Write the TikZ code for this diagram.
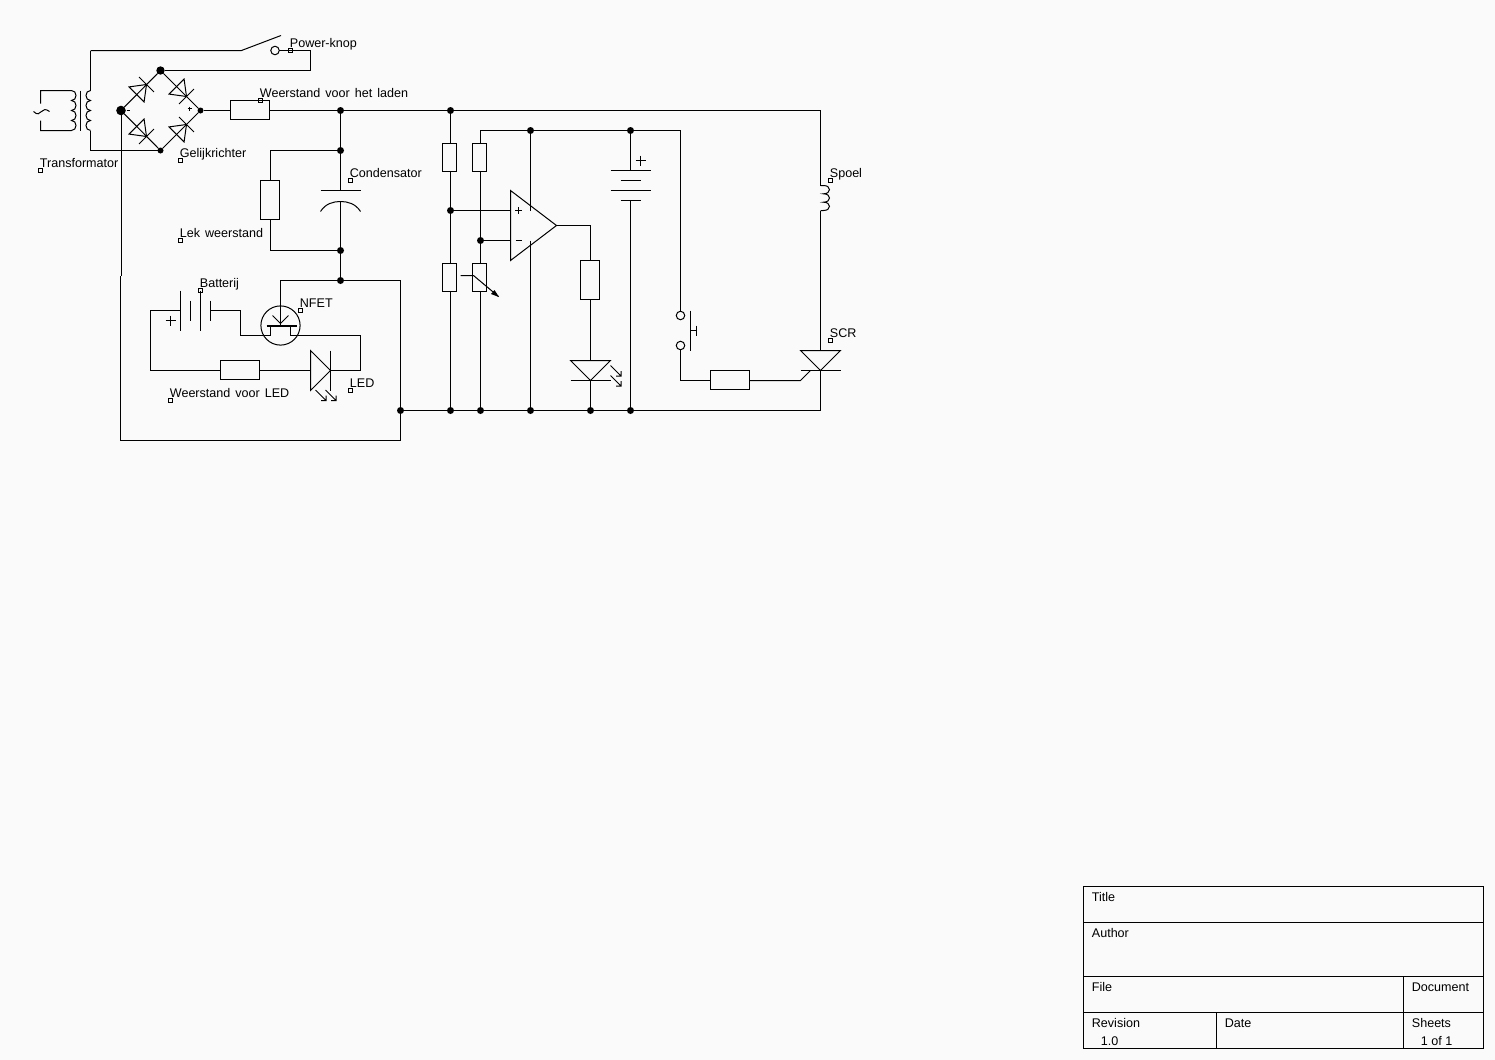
\documentclass[tikz,border=0pt]{standalone}
\usepackage{fontspec}
\setmainfont{Liberation Sans}
\definecolor{sheet}{HTML}{FAFAFA}
\newcommand{\lblfont}{\fontsize{6.28}{7.5}\selectfont\spaceskip=2.5pt\relax}
\newcommand{\marklabel}[4]{% name, x, y, text
  \node[mk] (m#1) at (#2,#3) {};
  \node[lab] (t#1) at (#2,#3-3) {#4};}
\tikzset{
  jn/.style={circle,fill=black,inner sep=0,outer sep=0,minimum size=3.5pt},
  rh/.style={draw,inner sep=0,outer sep=0,minimum width=19.5pt,minimum height=9.5pt},
  rv/.style={draw,inner sep=0,outer sep=0,minimum width=9.5pt,minimum height=19.5pt},
  rs/.style={draw,inner sep=0,outer sep=0,minimum width=7pt,minimum height=14pt},
  ring/.style={draw,circle,inner sep=0,outer sep=0,minimum size=4.25pt},
  mk/.style={draw,line width=.4pt,inner sep=0,outer sep=0,minimum size=1.9pt},
  lab/.style={anchor=base west,inner sep=0,outer sep=0,xshift=-0.3pt,font=\lblfont},
  diode/.pic={\draw (0,0) -- (-14,-10.6) -- (-14,10.6) -- cycle (0,-10.6) -- (0,10.6);},
  ray/.pic={\draw (0,0) -- (10.5,10.5) (5.5,10.5) -- (10.5,10.5) -- (10.5,5.5);},
  plussign/.pic={\draw (-5,0) -- (5,0) (0,-5) -- (0,5);},
}
\begin{document}
\begin{tikzpicture}[x=0.5pt,y=-0.5pt,line width=.5pt]
\useasboundingbox (0,0) rectangle (1495,1060);
\fill[sheet] (0,0) rectangle (1495,1060);
\begin{scope}[shift={(0.5,0.5)}]
% ---------- junctions
\node[jn,minimum size=4.2pt] (bt) at (160,70) {};
\node[jn,minimum size=4.8pt] (bl) at (120.5,110) {};
\node[jn,minimum size=3pt] (bb) at (160,150) {};
\node[jn,minimum size=3pt] (br) at (200,110) {};
\node[jn] (a1) at (340,110) {};
\node[jn] (a2) at (340,150) {};
\node[jn] (a3) at (340,250) {};
\node[jn] (a4) at (340,280) {};
\node[jn] (n1) at (450,110) {};
\node[jn] (n2) at (450,210) {};
\node[jn] (n3) at (480,240) {};
\node[jn] (t1) at (530,130) {};
\node[jn] (t2) at (630,130) {};
\node[jn] (g0) at (400,410) {};
\node[jn] (g1) at (450,410) {};
\node[jn] (g2) at (480,410) {};
\node[jn] (g3) at (530,410) {};
\node[jn] (g4) at (590,410) {};
\node[jn] (g5) at (630,410) {};
% ---------- resistors
\node[rh] (rc) at (249.5,109.5) {};
\node[rv] (rl) at (269.5,199.5) {};
\node[rh] (rled) at (239.5,369.5) {};
\node[rs] (r1) at (449,157) {};
\node[rs] (r2) at (479,157) {};
\node[rs] (r3) at (449,277) {};
\node[rs] (r4) at (479,277) {};
\node[rv] (r5) at (589.5,279.5) {};
\node[rh] (r6) at (729.5,379.5) {};
% ---------- transformer
\coordinate (pt) at (40,90);
\coordinate (pb) at (40,130);
\coordinate (pa) at (40,103);
\coordinate (pc) at (40,120);
\draw (pa) -- (pt) -- (71,90)
  .. controls (77,90) and (77,100) .. (71,100)
  .. controls (77,100) and (77,110) .. (71,110)
  .. controls (77,110) and (77,120) .. (71,120)
  .. controls (77,120) and (77,130) .. (71,130) -- (pb) -- (pc);
\draw (33,111) .. controls (37,115) and (39,113) .. (41,111)
  .. controls (43,109) and (45,108) .. (49,111);
\draw (80,90) -- (80,130);
\coordinate (st) at (90,90);
\coordinate (sb) at (90,130);
\coordinate (stt) at (90,50);
\coordinate (sbb) at (90,150);
\draw (st) .. controls (84,90) and (84,100) .. (90,100)
  .. controls (84,100) and (84,110) .. (90,110)
  .. controls (84,110) and (84,120) .. (90,120)
  .. controls (84,120) and (84,130) .. (90,130);
\draw (st) -- (stt);
\draw (sb) -- (sbb) -- (bb);
% ---------- power switch
\coordinate (sw1) at (241,50);
\coordinate (sw2) at (280.5,35);
\node[ring] (sw3) at (274.5,50) {};
\coordinate (sw4) at (310,50);
\coordinate (sw5) at (310,70);
\draw (stt) -- (sw1) -- (sw2);
\draw (sw3) -- (sw4) -- (sw5) -- (bt);
% ---------- bridge
\draw (bl) -- (bt);
\draw (bt) -- (br);
\draw (bl) -- (bb);
\draw (bb) -- (br);
\pic[rotate=45] at (146,84) {diode};
\pic[rotate=-45] at (186,96) {diode};
\pic[rotate=-45] at (146,136) {diode};
\pic[rotate=45] at (186,124) {diode};
\draw (187,108) -- (191,108) (189,106) -- (189,110);
\draw (126,110) -- (129,110);
% ---------- main rail
\coordinate (c1) at (820,110);
\coordinate (L1) at (820,185);
\coordinate (L2) at (820,210);
\draw (br) -- (rc.west |- br);
\draw (rc.east |- a1) -- (a1);
\draw (a1) -- (n1);
\draw (n1) -- (c1) -- (L1);
\draw (L1) -- (823,185)
  .. controls (831,185) and (831,193.3) .. (823,193.3)
  .. controls (831,193.3) and (831,201.7) .. (823,201.7)
  .. controls (831,201.7) and (831,210) .. (823,210) -- (L2);
% ---------- condenser and leak resistor
\coordinate (cp) at (340,190);
\coordinate (cq) at (340,201);
\coordinate (lx) at (270,0);
\draw (a1) -- (a2);
\draw (a2) -- (cp);
\draw (320,190) -- (360,190);
\draw (320,211) .. controls (325,203) and (333,201) .. (cq) .. controls (347,201) and (355,203) .. (360,211);
\draw (cq) -- (a3);
\draw (a3) -- (a4);
\draw (a2) -| (lx |- rl.north);
\draw (lx |- rl.south) |- (a3);
% ---------- loop round the LED circuit
\coordinate (o1) at (400,280);
\coordinate (o2) at (400,440);
\coordinate (o3) at (120,440);
\coordinate (o4) at (120,275);
\coordinate (o5) at (120.5,275);
\draw (a4) -- (o1) -- (g0);
\draw (g0) -- (o2) -- (o3) -- (o4);
\draw (bl) -- (o5);
% ---------- NFET
\node[draw,circle,inner sep=0,outer sep=0,minimum size=19.6pt] (fet) at (280,325) {};
\coordinate (fg) at (280,324);
\coordinate (fa) at (280,280);
\draw (a4) -- (fa) -- (fg);
\draw (272,315) -- (280,323) -- (288,315);
\draw[line width=1pt] (266,325) -- (296,325);
\coordinate (fs) at (270,335);
\coordinate (fd) at (290,335);
\coordinate (fs0) at (270,325);
\coordinate (fd0) at (290,325);
\coordinate (w1) at (240,335);
\coordinate (w2) at (240,310);
\coordinate (w3) at (360,335);
\coordinate (w4) at (360,370);
\draw (fs0) -- (fs) -- (w1) -- (w2);
\draw (fd0) -- (fd) -- (w3) -- (w4);
% ---------- battery left
\coordinate (b1) at (210,310);
\coordinate (b2) at (180,310);
\coordinate (b3) at (150,310);
\coordinate (b4) at (150,370);
\draw (180,290) -- (180,330) (190,300) -- (190,320) (200,290) -- (200,330) (210,300) -- (210,320);
\draw (w2) -- (b1);
\draw (b2) -- (b3) -- (b4) -- (rled.west |- b4);
\pic at (170,320) {plussign};
% ---------- LED left
\coordinate (d1) at (310,370);
\coordinate (d2) at (330,370);
\draw (rled.east |- d1) -- (d1);
\draw (310,350) -- (310,390) -- (d2) -- cycle;
\draw (330,350) -- (330,390);
\draw (d2) -- (w4);
\pic at (315,389.5) {ray};
\pic at (325,389.5) {ray};
% ---------- divider branches
\coordinate (x1) at (480,130);
\coordinate (x2) at (680,130);
\draw (n1) -- (n1 |- r1.north);
\draw (n1 |- r1.south) -- (n2);
\draw (n2) -- (n2 |- r3.north);
\draw (n2 |- r3.south) -- (g1);
\draw (x1 |- r2.north) -- (x1) -- (t1);
\draw (t1) -- (t2);
\draw (t2) -- (x2);
\draw (x1 |- r2.south) -- (n3);
\draw (n3) -- (n3 |- r4.north);
\draw (n3 |- r4.south) -- (g2);
\draw (460,275) -- (473,275) -- (498,296);
\fill (498.5,296.5) -- (490.5,293.5) -- (494,289.5) -- cycle;
% ---------- op amp
\coordinate (oa1) at (510,190);
\coordinate (oa2) at (510,260);
\coordinate (oa3) at (556,225);
\coordinate (op) at (510,210);
\coordinate (om) at (510,240);
\coordinate (ov) at (530,210);
\coordinate (og) at (530,240);
\draw (oa1) -- (oa2) -- (oa3) -- cycle;
\draw (n2) -- (op);
\draw (n3) -- (om);
\draw (t1) -- (ov);
\draw (og) -- (g3);
\draw (514.5,210) -- (521.5,210) (518,206.5) -- (518,213.5);
\draw (515,240) -- (521.5,240);
\coordinate (ob) at (590,225);
\draw (oa3) -- (ob) -- (ob |- r5.north);
% ---------- LED right
\coordinate (e1) at (590,360);
\coordinate (e2) at (590,380);
\draw (e1 |- r5.south) -- (e1);
\draw (570,360) -- (610,360) -- (e2) -- cycle;
\draw (570,380) -- (610,380);
\draw (e2) -- (g4);
\pic at (610,365) {ray};
\pic at (610,375) {ray};
% ---------- battery right
\coordinate (f1) at (630,170);
\coordinate (f2) at (630,200);
\draw (t2) -- (f1);
\draw (610,170) -- (650,170) (620,180) -- (640,180) (610,190) -- (650,190) (620,200) -- (640,200);
\draw (f2) -- (g5);
\pic at (640,160) {plussign};
% ---------- push button
\node[ring] (k1) at (680,315) {};
\node[ring] (k2) at (680,345) {};
\coordinate (k3) at (680,380);
\draw (x2) -- (k1);
\draw (k2) -- (k3) -- (r6.west |- k3);
\draw (690,310) -- (690,350) (690,330) -- (695.5,330) (695.5,325) -- (695.5,335);
% ---------- ground rail
\coordinate (c2) at (820,410);
\draw (g0) -- (g1);
\draw (g1) -- (g2);
\draw (g2) -- (g3);
\draw (g3) -- (g4);
\draw (g4) -- (g5);
\draw (g5) -- (c2);
% ---------- SCR
\coordinate (s1) at (820,350);
\coordinate (s2) at (820,370);
\coordinate (s3) at (800,380);
\coordinate (s4) at (810,370);
\draw (L2) -- (s1);
\draw (800,350) -- (840,350) -- (s2) -- cycle;
\draw (800,370) -- (840,370);
\draw (s2) -- (c2);
\draw (r6.east |- s3) -- (s3) -- (s4);
% ---------- labels
\marklabel{a}{290}{50}{Power-knop}
\marklabel{b}{260}{100}{Weerstand voor het laden}
\marklabel{c}{40}{170}{Transformator}
\marklabel{d}{180}{160}{Gelijkrichter}
\marklabel{e}{350}{180}{Condensator}
\marklabel{f}{180}{240}{Lek weerstand}
\marklabel{g}{200}{290}{Batterij}
\marklabel{h}{300}{310}{NFET}
\marklabel{i}{170}{400}{Weerstand voor LED}
\marklabel{j}{350}{390}{LED}
\marklabel{k}{830}{180}{Spoel}
\marklabel{l}{830}{340}{SCR}
% ---------- title block
\draw (1083,886) rectangle (1483,1048);
\draw (1083,922) -- (1483,922);
\draw (1083,976) -- (1483,976);
\draw (1083,1012) -- (1483,1012);
\draw (1403,976) -- (1403,1048);
\draw (1216,1012) -- (1216,1048);
\node[lab] (tb1) at (1092,900.5) {Title};
\node[lab] (tb2) at (1092,936.5) {Author};
\node[lab] (tb3) at (1092,990.5) {File};
\node[lab] (tb4) at (1412,990.5) {Document};
\node[lab] (tb5) at (1092,1026.5) {Revision};
\node[lab] (tb6) at (1225,1026.5) {Date};
\node[lab] (tb7) at (1412,1026.5) {Sheets};
\node[lab] (tb8) at (1101,1044.5) {1.0};
\node[lab] (tb9) at (1421,1044.5) {\spaceskip=0pt 1 of 1};
\end{scope}
\end{tikzpicture}
\end{document}
